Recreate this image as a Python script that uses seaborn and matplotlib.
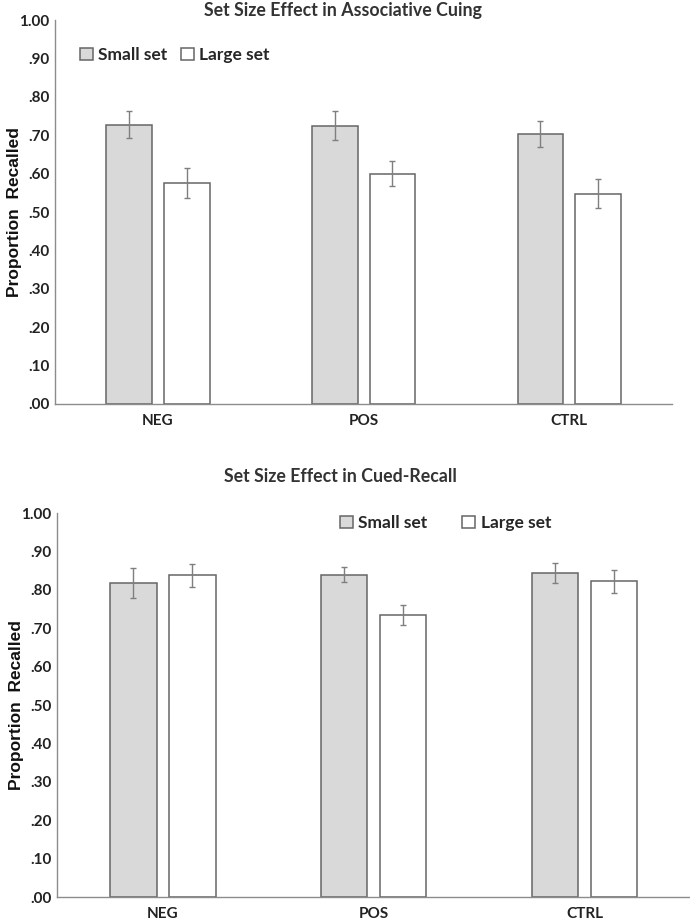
import pandas as pd
import numpy as np
import matplotlib
matplotlib.use("Agg")
import matplotlib.pyplot as plt
import seaborn as sns

# values
conditions = ['NEG', 'POS', 'CTRL']
set_sizes = ['Small set', 'Large set']

assoc_small = [0.727, 0.725, 0.703]
assoc_large = [0.576, 0.600, 0.548]
assoc_small_err = [0.035, 0.037, 0.034]
assoc_large_err = [0.039, 0.033, 0.038]

cued_small = [0.818, 0.840, 0.843]
cued_large = [0.838, 0.735, 0.823]
cued_small_err = [0.040, 0.020, 0.026]
cued_large_err = [0.030, 0.025, 0.030]

yticks = [0.0, 0.1, 0.2, 0.3, 0.4, 0.5, 0.6, 0.7, 0.8, 0.9, 1.0]
ytick_labels = ['.00', '.10', '.20', '.30', '.40', '.50', '.60', '.70', '.80', '.90', '1.00']

sns.set_theme(style="white")
plt.rcParams['font.family'] = ['Lato', 'DejaVu Sans']

palette = {'Small set': '#d9d9d9', 'Large set': '#ffffff'}
edge = '#666666'
axis_col = '#8c8c8c'


def make_df(small, large, small_err, large_err):
    return pd.DataFrame({
        'Condition': conditions * 2,
        'Set': ['Small set'] * 3 + ['Large set'] * 3,
        'Value': small + large,
        'Err': small_err + large_err,
    })


def draw_panel(ax, df, title, title_pos, legend_pos, colspace, ylab_x):
    sns.barplot(data=df, x='Condition', y='Value', hue='Set', order=conditions,
                hue_order=set_sizes, palette=palette, width=0.56, gap=0.21,
                errorbar=None, edgecolor=edge, linewidth=1.1, ax=ax)
    # error bars placed on the bar centres
    for cont, lvl in zip(ax.containers, set_sizes):
        sub = df[df['Set'] == lvl].set_index('Condition').loc[conditions]
        xs = [b.get_x() + b.get_width() / 2 for b in cont]
        ax.errorbar(xs, sub['Value'], yerr=sub['Err'], fmt='none',
                    ecolor='#7f7f7f', elinewidth=1.0, capsize=2.5, capthick=1.0)
    ax.set_ylim(0, 1.0)
    ax.set_xlim(-0.5, 2.5)
    ax.set_yticks(yticks)
    ax.set_yticklabels(ytick_labels)
    ax.tick_params(axis='y', length=0, labelsize=11, pad=4, colors='#222222')
    ax.tick_params(axis='x', length=0, labelsize=11, pad=7, colors='#222222')
    for lab in ax.get_xticklabels() + ax.get_yticklabels():
        lab.set_fontweight('bold')
    ax.set_xlabel('')
    ax.set_ylabel('Proportion  Recalled', fontsize=12.5, fontweight='bold',
                  family=['Liberation Sans', 'DejaVu Sans'], color='#111111')
    ax.yaxis.set_label_coords(ylab_x, 0.5)
    for s in ['top', 'right']:
        ax.spines[s].set_visible(False)
    for s in ['left', 'bottom']:
        ax.spines[s].set_color(axis_col)
        ax.spines[s].set_linewidth(1.0)
    ax.text(title_pos[0], title_pos[1], title, transform=ax.transAxes,
            ha='center', va='center', fontsize=12.8, fontweight='bold', color='#333333')
    handles, labels = ax.get_legend_handles_labels()
    ax.legend(handles, labels, loc='center left', bbox_to_anchor=legend_pos,
              ncol=2, frameon=False, handlelength=0.75, handleheight=0.75,
              handletextpad=0.3, columnspacing=colspace, borderaxespad=0,
              borderpad=0, prop={'weight': 'bold', 'size': 12.5})


fig = plt.figure(figsize=(6.9, 9.23), dpi=100)
ax1 = fig.add_axes([0.080, 0.5623, 0.894, 0.416])
ax2 = fig.add_axes([0.083, 0.028, 0.917, 0.416])

draw_panel(ax1, make_df(assoc_small, assoc_large, assoc_small_err, assoc_large_err),
           'Set Size Effect in Associative Cuing', (0.467, 1.026), (0.04, 0.909), 0.8, -0.054)
draw_panel(ax2, make_df(cued_small, cued_large, cued_small_err, cued_large_err),
           'Set Size Effect in Cued-Recall', (0.447, 1.096), (0.447, 0.974), 2.0, -0.052)

fig.savefig('out.png', dpi=100, facecolor='white')
